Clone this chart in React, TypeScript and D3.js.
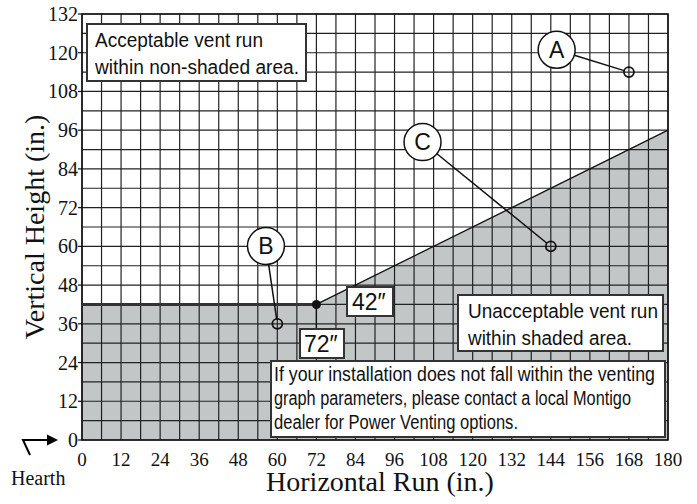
import React, { useEffect, useRef } from "react";
import * as d3 from "d3";

// axis ticks
const xTicks = [0, 12, 24, 36, 48, 60, 72, 84, 96, 108, 120, 132, 144, 156, 168, 180];
const yTicks = [0, 12, 24, 36, 48, 60, 72, 84, 96, 108, 120, 132];
const gridStep = 6;

// boundary of the unacceptable (shaded) region
const boundaryRun = [0, 72, 180];
const boundaryHeight = [42, 42, 96];

// example installations
const pointNames = ["A", "B", "C"];
const pointRun = [168, 60, 144];
const pointHeight = [114, 36, 60];
const labelRun = [145.8, 56.5, 104.6];
const labelHeight = [120.9, 60.1, 92.3];

const noteLines = [
  "If your installation does not fall within the venting",
  "graph parameters, please contact a local Montigo",
  "dealer for Power Venting options.",
];

const W = 697;
const H = 504;
const serif = "'Liberation Serif', 'Times New Roman', serif";
const sans = "'Liberation Sans', Arial, sans-serif";
const narrow = "'Liberation Sans Narrow', 'Liberation Sans', Arial, sans-serif";

const App = () => {
  const svgRef = useRef<SVGSVGElement>(null);

  useEffect(() => {
    const svg = d3.select(svgRef.current);
    svg.selectAll("*").remove();

    const x = d3.scaleLinear().domain([0, 180]).range([82, 668]);
    const y = d3.scaleLinear().domain([0, 132]).range([440, 14]);

    svg.append("rect").attr("width", W).attr("height", H).attr("fill", "#fff");

    // shaded region
    const shade: [number, number][] = [[0, 0]];
    boundaryRun.forEach((r, i) => shade.push([r, boundaryHeight[i]]));
    shade.push([180, 0]);
    svg
      .append("path")
      .attr("d", d3.line<[number, number]>().x((d) => x(d[0])).y((d) => y(d[1]))(shade))
      .attr("fill", "#c2c6c6");

    // grid
    const grid = svg.append("g").attr("stroke", "#222").attr("stroke-width", 1.2);
    d3.range(0, 181, gridStep).forEach((v) => {
      grid.append("line").attr("x1", x(v)).attr("x2", x(v)).attr("y1", y(0)).attr("y2", y(132));
    });
    d3.range(0, 133, gridStep).forEach((v) => {
      grid.append("line").attr("x1", x(0)).attr("x2", x(180)).attr("y1", y(v)).attr("y2", y(v));
    });
    svg
      .append("rect")
      .attr("x", x(0))
      .attr("y", y(132))
      .attr("width", x(180) - x(0))
      .attr("height", y(0) - y(132))
      .attr("fill", "none")
      .attr("stroke", "#111")
      .attr("stroke-width", 1.5);

    // boundary line
    svg
      .append("path")
      .attr("d", d3.line<number>().x((d) => x(d)).y((d, i) => y(boundaryHeight[i]))(boundaryRun.slice(0, 2)))
      .attr("stroke", "#333")
      .attr("stroke-width", 3)
      .attr("fill", "none");
    svg
      .append("path")
      .attr("d", d3.line<number>().x((d) => x(d)).y((d, i) => y(boundaryHeight[i + 1]))(boundaryRun.slice(1)))
      .attr("stroke", "#111")
      .attr("stroke-width", 1.3)
      .attr("fill", "none");

    // tick labels
    yTicks.forEach((v) => {
      svg
        .append("line")
        .attr("x1", x(0) - 4)
        .attr("x2", x(0))
        .attr("y1", y(v))
        .attr("y2", y(v))
        .attr("stroke", "#111")
        .attr("stroke-width", 1.2);
      svg
        .append("text")
        .attr("x", 78)
        .attr("y", y(v) + 7)
        .attr("text-anchor", "end")
        .attr("font-family", serif)
        .attr("font-size", 20)
        .attr("fill", "#111")
        .text(v);
    });
    xTicks.forEach((v) => {
      svg
        .append("text")
        .attr("x", x(v))
        .attr("y", 466)
        .attr("text-anchor", "middle")
        .attr("font-family", serif)
        .attr("font-size", 19)
        .attr("fill", "#111")
        .text(v);
    });

    // axis titles
    svg
      .append("text")
      .attr("x", 380)
      .attr("y", 491)
      .attr("text-anchor", "middle")
      .attr("font-family", serif)
      .attr("font-size", 28)
      .attr("fill", "#111")
      .text("Horizontal Run (in.)");
    svg
      .append("text")
      .attr("transform", "translate(44,227) rotate(-90)")
      .attr("text-anchor", "middle")
      .attr("font-family", serif)
      .attr("font-size", 28)
      .attr("fill", "#111")
      .text("Vertical Height (in.)");

    // Hearth marker
    svg
      .append("path")
      .attr("d", "M30,455 L23,440 L50,440")
      .attr("fill", "none")
      .attr("stroke", "#000")
      .attr("stroke-width", 2);
    svg.append("path").attr("d", "M47,434.5 L58,440 L47,445.5 Z").attr("fill", "#000");
    svg
      .append("text")
      .attr("x", 11)
      .attr("y", 485)
      .attr("font-family", serif)
      .attr("font-size", 20)
      .attr("fill", "#111")
      .text("Hearth");

    // text boxes
    const box = (x0: number, y0: number, w: number, h: number, lines: string[], tx: number, ty: number[], size: number, font: string, lens?: number[]) => {
      svg
        .append("rect")
        .attr("x", x0)
        .attr("y", y0)
        .attr("width", w)
        .attr("height", h)
        .attr("fill", "#fff")
        .attr("stroke", "#333")
        .attr("stroke-width", 2);
      lines.forEach((s, i) => {
        const t = svg
          .append("text")
          .attr("x", tx)
          .attr("y", ty[i])
          .attr("font-family", font)
          .attr("font-size", size)
          .attr("fill", "#111")
          .text(s);
        if (lens) t.attr("textLength", lens[i]).attr("lengthAdjust", "spacingAndGlyphs");
      });
    };
    box(87, 24, 219, 57, ["Acceptable vent run", "within non-shaded area."], 95, [47, 74], 20, sans, [168, 204]);
    box(458, 295, 205, 56, ["Unacceptable vent run", "within shaded area."], 468, [318, 345], 20, sans, [190, 164]);
    box(271, 361, 394, 76, noteLines, 274, [381, 405, 429], 20, narrow, [381, 357, 244]);

    // 72,42 corner marker
    svg
      .append("line")
      .attr("x1", x(72))
      .attr("x2", x(72))
      .attr("y1", y(42))
      .attr("y2", 329)
      .attr("stroke", "#111")
      .attr("stroke-width", 1.3);
    svg.append("circle").attr("cx", x(72)).attr("cy", y(42)).attr("r", 4.5).attr("fill", "#111");
    box(300, 329, 44, 29, ["72\u2033"], 304, [352], 23, sans);
    box(347, 287, 46, 29, ["42\u2033"], 352, [310], 23, sans);

    // labelled points
    pointNames.forEach((n, i) => {
      const px = x(pointRun[i]);
      const py = y(pointHeight[i]);
      const lx = x(labelRun[i]);
      const ly = y(labelHeight[i]);
      const a = Math.atan2(py - ly, px - lx);
      const r = 18.5;
      svg
        .append("line")
        .attr("x1", lx + r * Math.cos(a))
        .attr("y1", ly + r * Math.sin(a))
        .attr("x2", px - 5 * Math.cos(a))
        .attr("y2", py - 5 * Math.sin(a))
        .attr("stroke", "#111")
        .attr("stroke-width", 1.5);
      svg
        .append("circle")
        .attr("cx", px)
        .attr("cy", py)
        .attr("r", 5)
        .attr("fill", "none")
        .attr("stroke", "#111")
        .attr("stroke-width", 1.8);
      svg
        .append("circle")
        .attr("cx", lx)
        .attr("cy", ly)
        .attr("r", r)
        .attr("fill", "#fff")
        .attr("stroke", "#111")
        .attr("stroke-width", 1.5);
      svg
        .append("text")
        .attr("x", lx)
        .attr("y", ly + 8)
        .attr("text-anchor", "middle")
        .attr("font-family", sans)
        .attr("font-size", 23)
        .attr("fill", "#111")
        .text(n);
    });
  }, []);

  return (
    <svg
      ref={svgRef}
      width={W}
      height={H}
      style={{ position: "absolute", left: 0, top: 0 }}
    />
  );
};

export default App;
